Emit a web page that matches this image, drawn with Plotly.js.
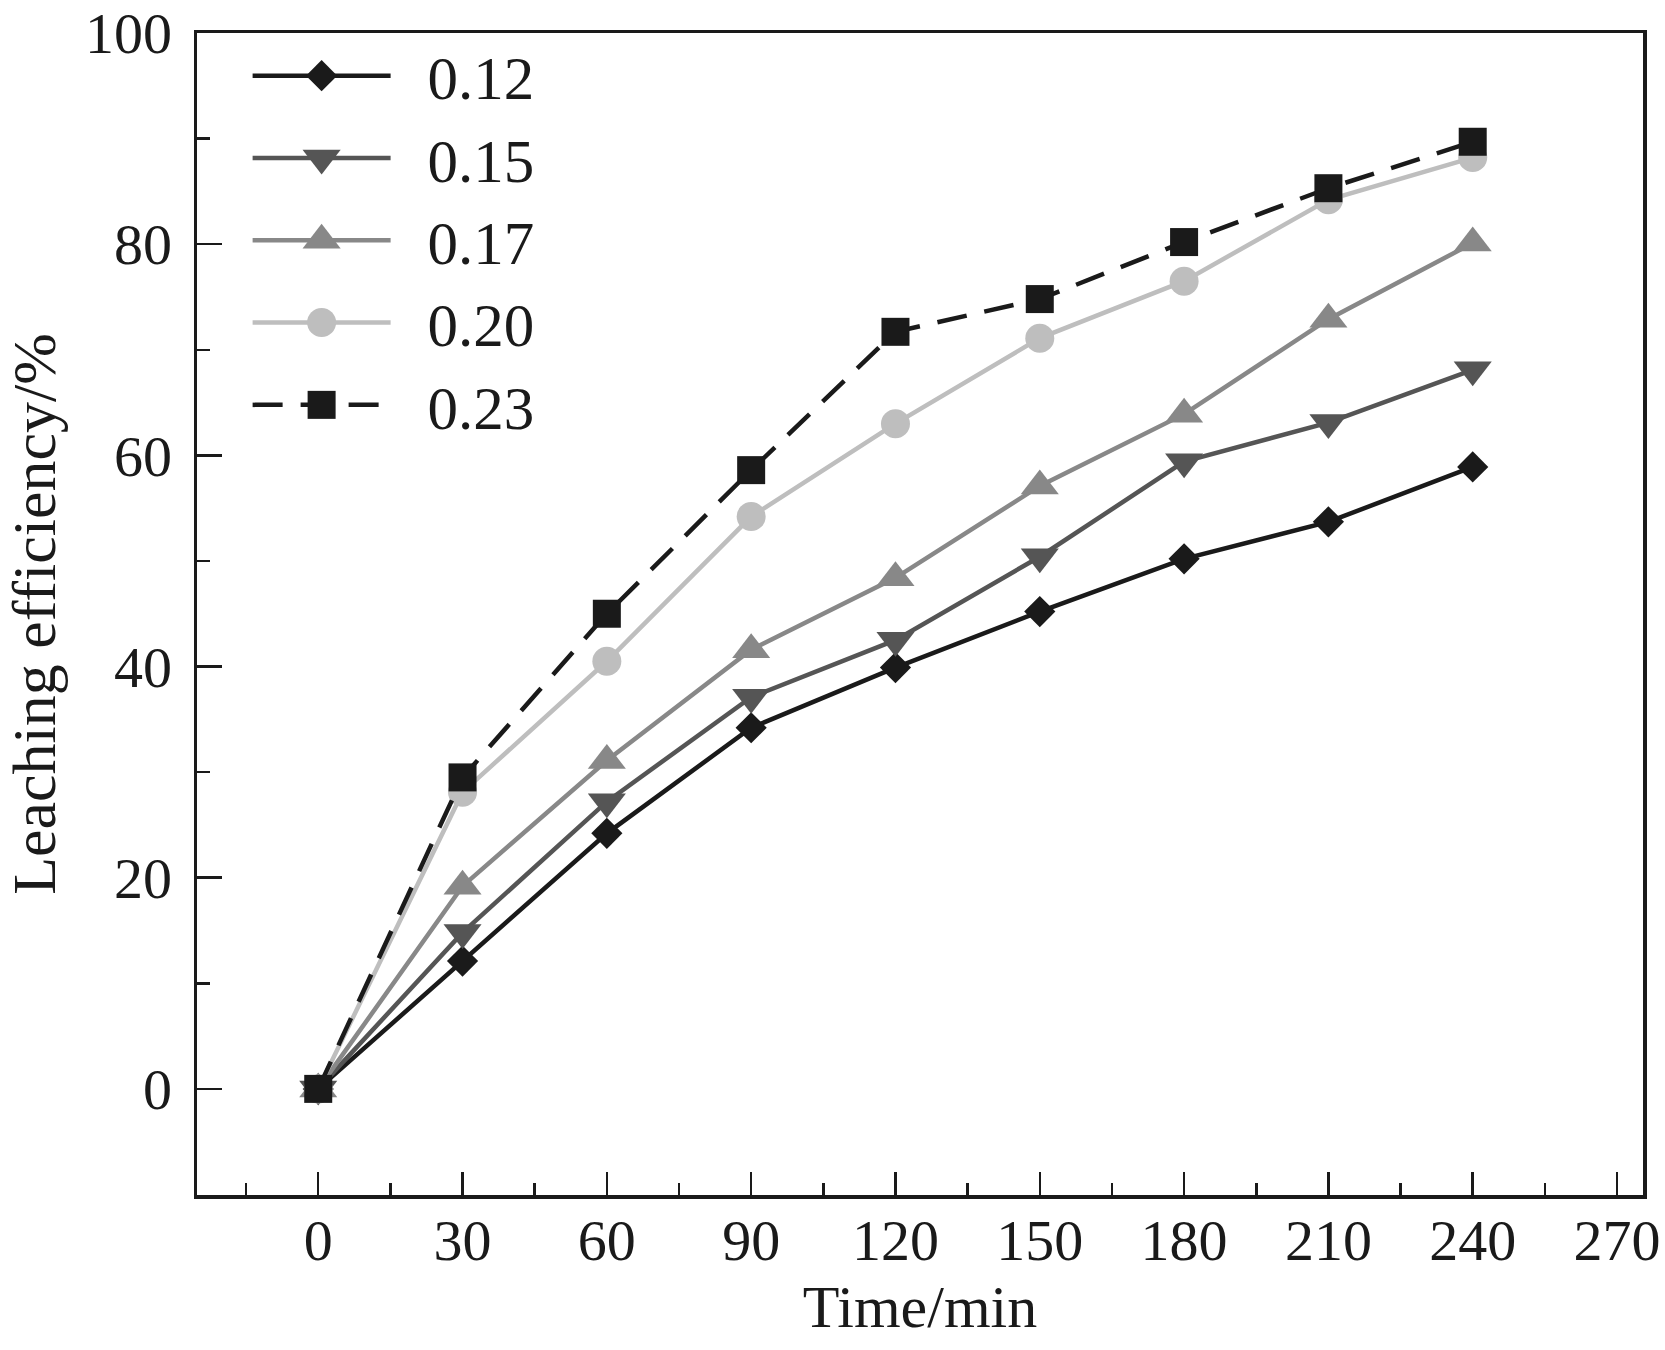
<!DOCTYPE html>
<html>
<head>
<meta charset="utf-8">
<script src="https://cdn.plot.ly/plotly-3.0.1.min.js"></script>
<style>
  html, body { margin: 0; padding: 0; background: #ffffff; }
  #chart { width: 1665px; height: 1350px; }
</style>
</head>
<body>
<div id="chart"></div>
<script>
// ---- data ----
const timeMin = [0, 30, 60, 90, 120, 150, 180, 210, 240];
const seriesNames = ['0.12', '0.15', '0.17', '0.20', '0.23'];
const eff012 = [0, 12.1, 24.2, 34.2, 39.9, 45.2, 50.2, 53.7, 58.9];
const eff015 = [0, 14.8, 27.2, 37.1, 42.5, 50.4, 59.4, 63.1, 68.1];
const eff017 = [0, 19.2, 31.1, 41.6, 48.4, 57.1, 63.9, 72.9, 80.1];
const eff020 = [0, 28.1, 40.5, 54.2, 63.0, 71.1, 76.5, 84.2, 88.2];
const eff023 = [0, 29.5, 45.0, 58.6, 71.7, 74.8, 80.2, 85.3, 89.7];
const xTickVals = [0, 30, 60, 90, 120, 150, 180, 210, 240, 270];
const yTickVals = [0, 20, 40, 60, 80, 100];

const FONT = '"Liberation Serif", "Times New Roman", serif';
const INK = '#1a1a1a';

const styles = [
  { color: '#1a1a1a', symbol: 'diamond', size: 24, dash: 'solid' },
  { color: '#555555', symbol: 'triangle-down', size: 33, dash: 'solid' },
  { color: '#888888', symbol: 'triangle-up', size: 33, dash: 'solid' },
  { color: '#bebebe', symbol: 'circle', size: 29, dash: 'solid' },
  { color: '#1a1a1a', symbol: 'square', size: 28, dash: '30px,18px' }
];
const values = [eff012, eff015, eff017, eff020, eff023];

const traces = values.map((v, i) => ({
  type: 'scatter',
  mode: 'lines+markers',
  name: seriesNames[i],
  x: timeMin,
  y: v,
  line: { color: styles[i].color, width: 4.5, dash: styles[i].dash },
  marker: { color: styles[i].color, symbol: styles[i].symbol, size: styles[i].size, line: { width: 0 } },
  cliponaxis: false
}));

const layout = {
  width: 1665,
  height: 1350,
  paper_bgcolor: '#ffffff',
  plot_bgcolor: '#ffffff',
  margin: { l: 197, r: 22, t: 33, b: 155, pad: 0 },
  font: { family: FONT, color: INK, size: 58 },
  showlegend: true,
  legend: {
    x: 0.035, xanchor: 'left',
    y: 1.003, yanchor: 'top',
    bgcolor: 'rgba(0,0,0,0)',
    borderwidth: 0,
    font: { family: FONT, size: 61, color: INK },
    itemwidth: 138,
    tracegroupgap: 0,
    itemsizing: 'trace'
  },
  xaxis: {
    range: [-25.2, 275.4],
    tickmode: 'array',
    tickvals: xTickVals,
    ticktext: xTickVals.map(String),
    ticks: 'inside', ticklen: 23, tickwidth: 2.5, tickcolor: INK,
    minor: { dtick: 15, tick0: 0, ticks: 'inside', ticklen: 12, tickwidth: 2.5, tickcolor: INK, showgrid: false },
    showline: true, linewidth: 3.5, linecolor: INK, mirror: true,
    showgrid: false, zeroline: false,
    tickfont: { family: FONT, size: 58, color: INK },
    ticklabelstandoff: -8,
    title: { text: 'Time/min', font: { family: FONT, size: 60, color: INK }, standoff: 14 }
  },
  yaxis: {
    range: [-10.05, 100],
    tickmode: 'array',
    tickvals: yTickVals,
    ticktext: yTickVals.map(String),
    ticks: 'inside', ticklen: 25, tickwidth: 2.5, tickcolor: INK,
    minor: { dtick: 10, tick0: 0, ticks: 'inside', ticklen: 13, tickwidth: 2.5, tickcolor: INK, showgrid: false },
    showline: true, linewidth: 3.5, linecolor: INK, mirror: true,
    showgrid: false, zeroline: false,
    tickfont: { family: FONT, size: 58, color: INK },
    ticklabelstandoff: 10,
    title: { text: 'Leaching efficiency/%', font: { family: FONT, size: 62, color: INK }, standoff: 30 }
  }
};

Plotly.newPlot('chart', traces, layout, { staticPlot: true, displayModeBar: false }).then(() => {
  // let the legend overflow its clip box, enlarge its symbols and open the gap before the labels
  document.querySelectorAll('.legend .scrollbox').forEach(el => el.removeAttribute('clip-path'));
  document.querySelectorAll('.legend').forEach(el => el.removeAttribute('clip-path'));
  const items = document.querySelectorAll('.legend .traces');
  items.forEach((g, i) => {
    const st = styles[i];
    if (!st) return;
    const s = st.size / 16;
    g.querySelectorAll('.legendpoints path.scatterpts').forEach(p => {
      const t = p.getAttribute('transform') || '';
      p.setAttribute('transform', t + ' scale(' + s.toFixed(3) + ')');
    });
    const txt = g.querySelector('text.legendtext');
    if (txt) {
      const x = parseFloat(txt.getAttribute('x')) || 0;
      txt.setAttribute('x', x + 32);
    }
  });
});
</script>
</body>
</html>
